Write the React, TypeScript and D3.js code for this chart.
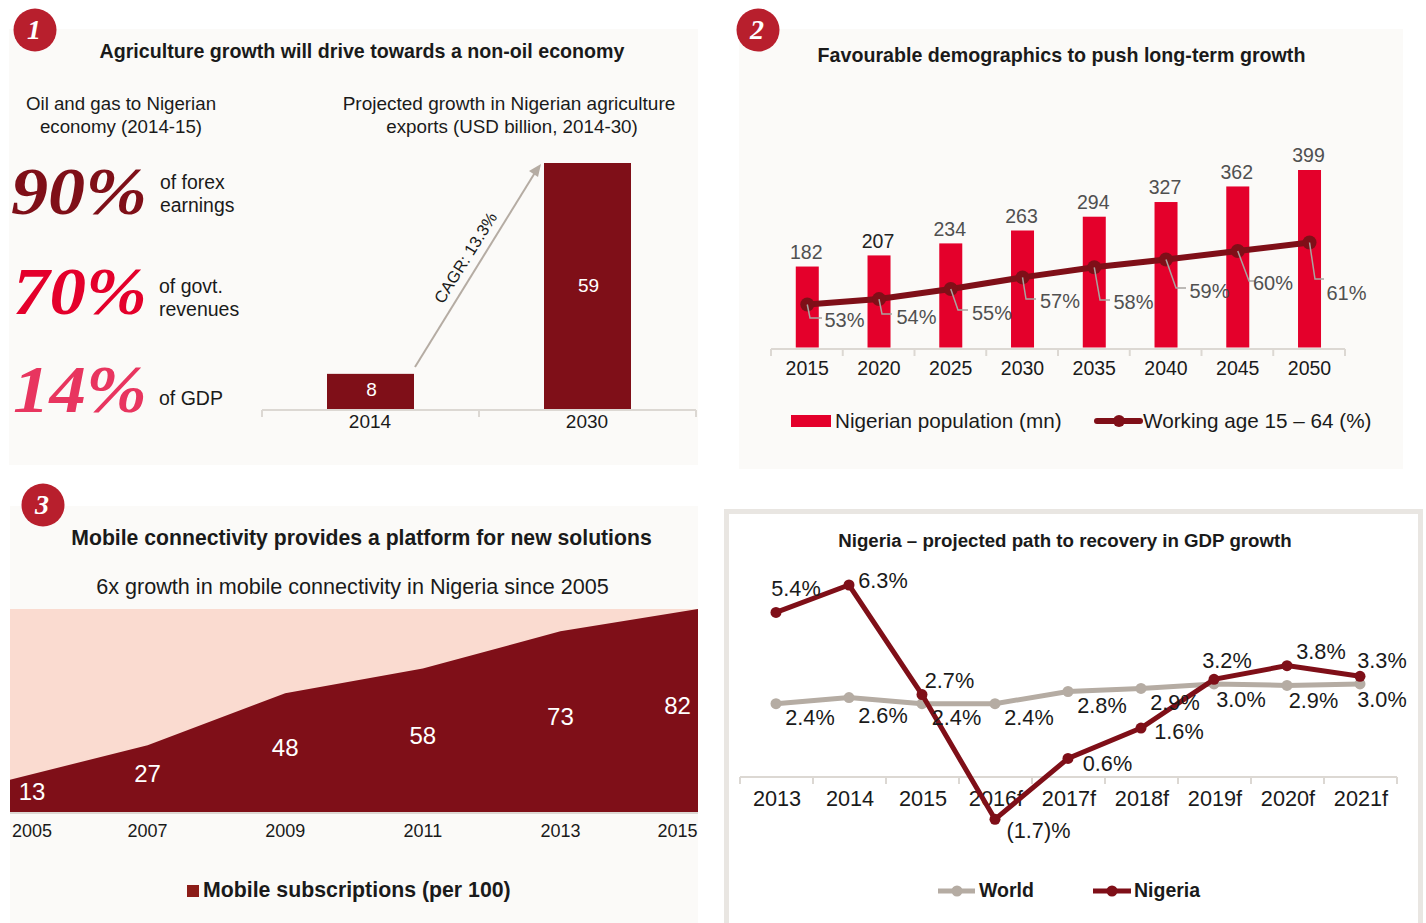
import React from "react";
import * as d3 from "d3";

const FONT = "'Liberation Sans', Arial, sans-serif";
const SERIF = "'Liberation Serif', serif";
const DARK = "#7f0f18";
const RED = "#e4002b";
const TAUPE = "#b5aca3";
const PANEL = "#fbfaf8";
const AXIS = "#dcd8d3";

// Panel 1
const exportYears = ["2014", "2030"];
const exportValues = [8, 59];
const stats = ["90%", "70%", "14%"];
// Panel 2
const popYears = ["2015", "2020", "2025", "2030", "2035", "2040", "2045", "2050"];
const population = [182, 207, 234, 263, 294, 327, 362, 399];
const workingAge = [53, 53.7, 55, 56.5, 57.8, 58.8, 59.9, 61];
const workingLabels = ["53%", "54%", "55%", "57%", "58%", "59%", "60%", "61%"];
// Panel 3
const mobileYears = [2005, 2007, 2009, 2011, 2013, 2015];
const mobileValues = [13, 27, 48, 58, 73, 82];
// Panel 4
const gdpYears = ["2013", "2014", "2015", "2016f", "2017f", "2018f", "2019f", "2020f", "2021f"];
const nigeria = [5.4, 6.3, 2.7, -1.4, 0.6, 1.6, 3.2, 3.65, 3.3];
const nigeriaLabels = ["5.4%", "6.3%", "2.7%", "(1.7)%", "0.6%", "1.6%", "3.2%", "3.8%", "3.3%"];
const world = [2.4, 2.6, 2.4, 2.4, 2.8, 2.9, 3.05, 3.0, 3.05];
const worldLabels = ["2.4%", "2.6%", "2.4%", "2.4%", "2.8%", "2.9%", "3.0%", "2.9%", "3.0%"];

// Label layout (pixel offsets, separate from data)
const workLabelPos: [number, number][] = [[844.5, 321], [916.5, 318], [992, 314], [1060, 302], [1133.5, 303], [1209.5, 292], [1273, 284], [1346.5, 294]];
const workElbow: [number, number, number][] = [[810, 318, 822], [882, 314, 892], [958, 310, 968], [1026, 299, 1036], [1100, 300, 1110], [1176, 288, 1186], [1249, 281, 1255], [1315, 279, 1324]];
const nigeriaLabelPos: [number, number][] = [[796, 589], [883, 581], [949.5, 681], [1038.5, 831], [1107.5, 764], [1179, 732], [1227, 661], [1321, 652], [1382, 661]];
const worldLabelPos: [number, number][] = [[810, 718], [883, 716], [956.5, 718], [1029, 718], [1102, 706], [1175, 703], [1241, 700], [1313.5, 701], [1382, 700]];

type TP = { x: number; y: number; s: number; c?: string; a?: string; b?: boolean; f?: string; i?: boolean; t?: string; w?: number; children: React.ReactNode };
const T = ({ x, y, s, c = "#1a1a1a", a = "middle", b = false, f = FONT, i = false, t, w, children }: TP) => (
  <text x={x} y={y - 0.8} fontSize={s} fill={c} textAnchor={a} dominantBaseline="central" fontFamily={f}
    fontWeight={b ? "bold" : "normal"} fontStyle={i ? "italic" : "normal"} transform={t}
    textLength={w} lengthAdjust={w ? "spacingAndGlyphs" : undefined}>{children}</text>
);

const Badge = ({ x, y, n }: { x: number; y: number; n: string }) => (
  <g>
    <circle cx={x} cy={y} r={21.5} fill="#b81f2d" />
    <T x={x - 1} y={y} s={28} c="#fff" b i f={SERIF}>{n}</T>
  </g>
);

export default function App() {
  // Panel 1 scales
  const x1 = d3.scaleBand<string>().domain(exportYears).range([262, 696]);
  const y1 = d3.scaleLinear().domain([-0.5, 59]).range([409, 163]);
  const barW1 = 87;

  // Panel 2 scales
  const x2 = d3.scaleBand<string>().domain(popYears).range([771, 1345]);
  const y2 = d3.scaleLinear().domain([0, 399]).range([347.5, 170]);
  const yW = d3.scaleLinear().domain([53, 61]).range([304.5, 242.5]);
  const cx2 = (i: number) => x2(popYears[i])! + x2.bandwidth() / 2 + 0.4;
  const line2 = d3.line<number>().x((_, i) => cx2(i)).y(d => yW(d));

  // Panel 3 scales
  const x3 = d3.scaleLinear().domain([2005, 2015]).range([10, 698]);
  const y3 = d3.scaleLinear().domain([0, 82]).range([812, 609]);
  const area3 = d3.area<number>().x((_, i) => x3(mobileYears[i])).y0(812).y1(d => y3(d));

  // Panel 4 scales
  const x4 = d3.scaleBand<string>().domain(gdpYears).range([740, 1397]);
  const y4 = d3.scaleLinear().domain([0, 6.3]).range([776.7, 585]);
  const cx4 = (i: number) => x4(gdpYears[i])! + x4.bandwidth() / 2 - 0.5;
  const line4 = d3.line<number>().x((_, i) => cx4(i)).y(d => y4(d));

  const ticks = (scale: d3.ScaleBand<string>, y: number, h: number) => {
    const [a, b] = scale.range();
    return (
      <g stroke={AXIS} strokeWidth={2} fill="none">
        <line x1={a} x2={b} y1={y} y2={y} />
        {[...scale.domain().map(d => scale(d)!), b].map((p, i) => <line key={i} x1={p} x2={p} y1={y} y2={y + h} />)}
      </g>
    );
  };

  return (
    <svg width={1426} height={923} style={{ position: "absolute", left: 0, top: 0, display: "block", background: "#fff" }}>
      {/* Panels */}
      <rect x={9} y={29} width={689} height={436} fill={PANEL} />
      <rect x={739} y={29} width={664} height={440} fill={PANEL} />
      <rect x={10} y={506} width={688} height={417} fill={PANEL} />
      <path d="M726.5 923 V511.5 H1420.5 V923" fill="none" stroke="#e9e6e2" strokeWidth={5} />

      {/* Panel 1 */}
      <Badge x={35} y={30} n="1" />
      <T x={362} y={52} s={19.65} b>Agriculture growth will drive towards a non-oil economy</T>
      <T x={121} y={104} s={18.7}>Oil and gas to Nigerian</T>
      <T x={121} y={127} s={18.7}>economy (2014-15)</T>
      <T x={509} y={104} s={19}>Projected growth in Nigerian agriculture</T>
      <T x={512} y={127} s={18.8}>exports (USD billion, 2014-30)</T>
      <T x={11} y={192} s={67} a="start" c={DARK} b i f={SERIF} w={136}>{stats[0]}</T>
      <T x={13} y={292} s={67} a="start" c={RED} b i f={SERIF} w={134}>{stats[1]}</T>
      <T x={13} y={390} s={67} a="start" c="#e8355f" b i f={SERIF} w={134}>{stats[2]}</T>
      <T x={160} y={183} s={19.4} a="start">of forex</T>
      <T x={160} y={206} s={19.4} a="start">earnings</T>
      <T x={159} y={287} s={19.5} a="start">of govt.</T>
      <T x={159} y={310} s={19.5} a="start">revenues</T>
      <T x={159} y={399} s={19.5} a="start">of GDP</T>
      {exportYears.map((d, i) => {
        const cx = x1(d)! + x1.bandwidth() / 2;
        return (
          <g key={d}>
            <rect x={cx - barW1 / 2} y={y1(exportValues[i])} width={barW1} height={409 - y1(exportValues[i])} fill={DARK} />
            <T x={cx + 1} y={i === 0 ? 390 : 286} s={19} c="#fff">{exportValues[i]}</T>
            <T x={cx - 0.5} y={422.5} s={19}>{d}</T>
          </g>
        );
      })}
      {ticks(x1, 410, 7)}
      <line x1={415} y1={367} x2={536} y2={171} stroke={TAUPE} strokeWidth={2} />
      <path d="M541 164 L538 177 L529 171 Z" fill={TAUPE} />
      <T x={466} y={258} s={16.5} t="rotate(-58 466 258)">CAGR: 13.3%</T>

      {/* Panel 2 */}
      <Badge x={758} y={30} n="2" />
      <T x={1061.5} y={56} s={19.65} b>Favourable demographics to push long-term growth</T>
      {popYears.map((d, i) => {
        const cx = cx2(i);
        return (
          <g key={d}>
            <rect x={cx - 11.5} y={y2(population[i])} width={23} height={347.5 - y2(population[i])} fill={RED} />
            <T x={cx - 1} y={y2(population[i]) - 14} s={19.5} c={i === 1 ? "#222" : "#505050"}>{population[i]}</T>
            <T x={cx} y={368.5} s={19.5}>{d}</T>
          </g>
        );
      })}
      {ticks(x2, 349, 7)}
      <path d={line2(workingAge)!} fill="none" stroke={DARK} strokeWidth={6} />
      {workingAge.map((v, i) => {
        const cx = cx2(i);
        const [ex, ey, ex2] = workElbow[i];
        return (
          <g key={i}>
            <circle cx={cx} cy={yW(v)} r={7} fill={DARK} />
            <path d={`M${cx} ${yW(v)} L${ex} ${ey} L${ex2} ${ey}`} fill="none" stroke="#a8a4a0" strokeWidth={1.5} />
            <T x={workLabelPos[i][0]} y={workLabelPos[i][1]} s={20} c="#505050">{workingLabels[i]}</T>
          </g>
        );
      })}
      <rect x={791} y={415} width={40} height={12} fill={RED} />
      <T x={835} y={421} s={20.7} a="start">Nigerian population (mn)</T>
      <line x1={1097} x2={1140} y1={421} y2={421} stroke={DARK} strokeWidth={6} strokeLinecap="round" />
      <circle cx={1119} cy={421} r={6} fill={DARK} />
      <T x={1143} y={421} s={20.7} a="start">Working age 15 – 64 (%)</T>

      {/* Panel 3 */}
      <Badge x={43} y={505} n="3" />
      <T x={361.5} y={538.5} s={21.2} b>Mobile connectivity provides a platform for new solutions</T>
      <T x={352.5} y={587.5} s={21.6}>6x growth in mobile connectivity in Nigeria since 2005</T>
      <rect x={10} y={609} width={688} height={203} fill="#fadbd0" />
      <path d={area3(mobileValues)!} fill={DARK} />
      <line x1={10} x2={698} y1={813} y2={813} stroke={AXIS} strokeWidth={2} />
      {mobileYears.map((yr, i) => {
        const cx = i === 0 ? 32 : i === 5 ? 677.5 : x3(yr);
        return (
          <g key={yr}>
            <T x={cx} y={831.5} s={18}>{yr}</T>
            <T x={cx} y={[792, 774, 748, 736, 717, 706][i]} s={24} c="#fff">{mobileValues[i]}</T>
          </g>
        );
      })}
      <rect x={187} y={885} width={12} height={12} fill="#8c1d18" />
      <T x={203} y={891} s={21.3} a="start" b>Mobile subscriptions (per 100)</T>

      {/* Panel 4 */}
      <T x={1065} y={541} s={18.7} b>Nigeria – projected path to recovery in GDP growth</T>
      {ticks(x4, 777, 7)}
      {gdpYears.map((d, i) => <T key={d} x={cx4(i) + 1} y={799} s={21.7}>{d}</T>)}
      <path d={line4(world)!} fill="none" stroke={TAUPE} strokeWidth={5} />
      {world.map((v, i) => <circle key={i} cx={cx4(i)} cy={y4(v)} r={5.5} fill={TAUPE} />)}
      <path d={line4(nigeria)!} fill="none" stroke={DARK} strokeWidth={5} />
      {nigeria.map((v, i) => <circle key={i} cx={cx4(i)} cy={y4(v)} r={5.5} fill={DARK} />)}
      {nigeriaLabels.map((l, i) => <T key={i} x={nigeriaLabelPos[i][0]} y={nigeriaLabelPos[i][1]} s={21.7}>{l}</T>)}
      {worldLabels.map((l, i) => <T key={i} x={worldLabelPos[i][0]} y={worldLabelPos[i][1]} s={21.7}>{l}</T>)}
      <line x1={938} x2={975} y1={891} y2={891} stroke={TAUPE} strokeWidth={5} />
      <circle cx={957} cy={891} r={5.5} fill={TAUPE} />
      <T x={979} y={890.5} s={19.5} a="start" b>World</T>
      <line x1={1093} x2={1131} y1={891} y2={891} stroke={DARK} strokeWidth={5} />
      <circle cx={1112} cy={891} r={5.5} fill={DARK} />
      <T x={1134} y={890.5} s={19.5} a="start" b>Nigeria</T>
    </svg>
  );
}
